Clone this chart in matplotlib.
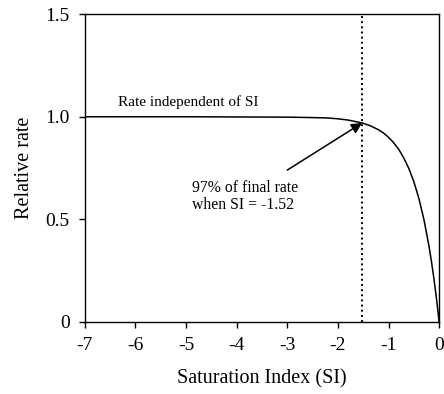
import matplotlib.pyplot as plt
import numpy as np

plt.rcParams['font.family'] = ['Liberation Serif', 'DejaVu Serif']

# relative rate vs saturation index
si = [-7, -6, -5, -4, -3, -2.5, -2.2, -2.0, -1.8, -1.52, -1.35, -1.2, -1.1,
      -1.0, -0.9, -0.8, -0.7, -0.6, -0.5, -0.4, -0.3, -0.2, -0.15, -0.1,
      -0.05, 0]
rate = [1.0, 1.0, 1.0, 0.999, 0.998, 0.996, 0.994, 0.99, 0.984, 0.97, 0.955,
        0.937, 0.921, 0.90, 0.874, 0.842, 0.80, 0.749, 0.684, 0.602, 0.499,
        0.369, 0.292, 0.206, 0.109, 0.0]

si_mark = -1.52
rate_mark = 0.97

xticks = [-7, -6, -5, -4, -3, -2, -1, 0]
xticklabels = ['-7', '-6', '-5', '-4', '-3', '-2', '-1', '0']
yticks = [0, 0.5, 1.0, 1.5]
yticklabels = ['0', '0.5', '1.0', '1.5']

fig = plt.figure(figsize=(4.44, 3.94), dpi=100)
ax = fig.add_axes([0.191, 0.183, 0.798, 0.781])

ax.plot(si, rate, color='black', lw=1.1)
ax.axvline(si_mark, color='black', ls=':', lw=1.4)

ax.set_xlim(-7, 0)
ax.set_ylim(0, 1.5)
ax.set_xticks(xticks)
ax.set_xticklabels(xticklabels)
ax.set_yticks(yticks)
ax.set_yticklabels(yticklabels)
ax.tick_params(direction='out', length=4, width=1, labelsize=14)
ax.tick_params(axis='x', pad=7)
ax.tick_params(axis='y', pad=7)
for s in ax.spines.values():
    s.set_linewidth(1.0)

ax.set_xlabel('Saturation Index (SI)', fontsize=14.5, labelpad=11)
ax.set_ylabel('Relative rate', fontsize=14.5, labelpad=8)

ax.text(-6.35, 1.04, 'Rate independent of SI', fontsize=11, ha='left', va='bottom')
ax.text(-4.88, 0.61, '97% of final rate\nwhen SI = -1.52', fontsize=11.3,
        ha='left', va='center', linespacing=1.05)
ax.annotate('', xy=(si_mark, rate_mark), xytext=(-3.0, 0.74),
            arrowprops=dict(arrowstyle='-|>', color='black', lw=1.1,
                            mutation_scale=16, shrinkA=0, shrinkB=0))

fig.savefig('out.png', dpi=100)
